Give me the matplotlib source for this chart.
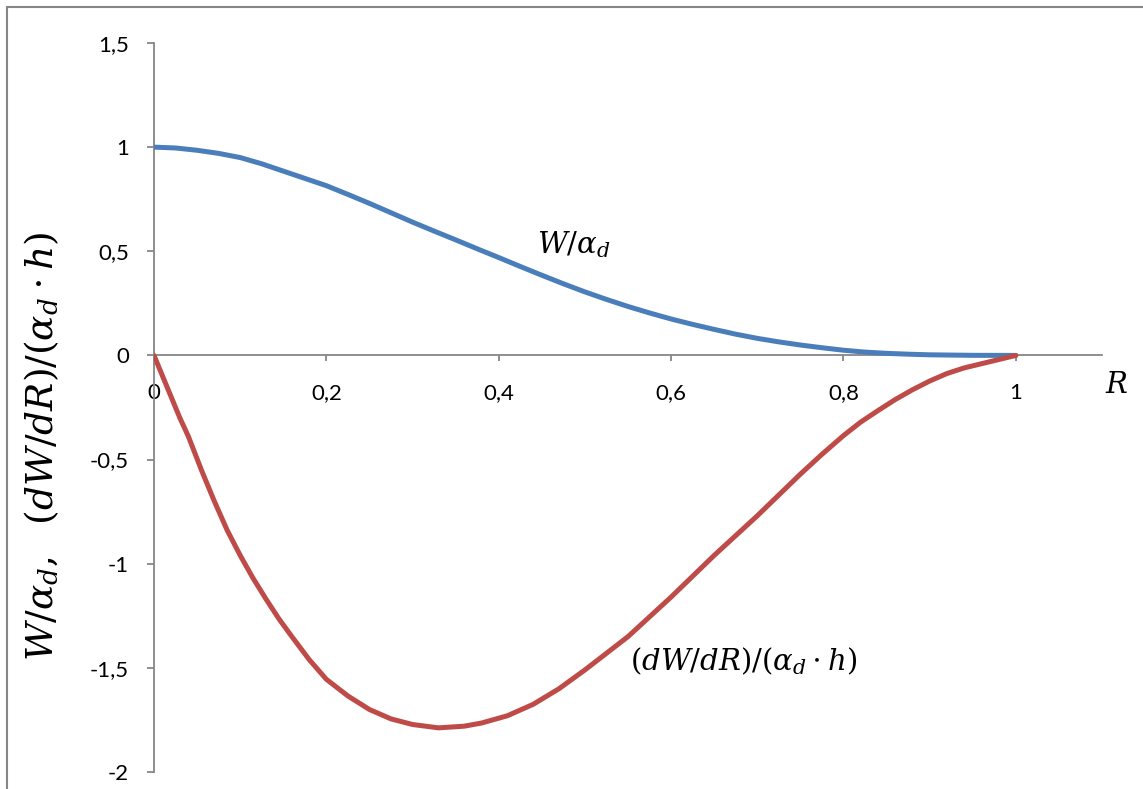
import numpy as np
import matplotlib
matplotlib.use('Agg')
import matplotlib.pyplot as plt
from matplotlib.patches import Rectangle

plt.rcParams['font.family'] = ['Lato', 'DejaVu Sans']
plt.rcParams['mathtext.fontset'] = 'dejavuserif'

# W/alpha_d
r_w = [0, 0.025, 0.05, 0.075, 0.1, 0.125, 0.15, 0.175, 0.2, 0.225, 0.25,
       0.275, 0.3, 0.325, 0.35, 0.375, 0.4, 0.425, 0.45, 0.475, 0.5,
       0.525, 0.55, 0.575, 0.6, 0.625, 0.65, 0.675, 0.7, 0.725, 0.75,
       0.775, 0.8, 0.825, 0.85, 0.875, 0.9, 0.95, 1.0]
w = [1.0, 0.996, 0.985, 0.97, 0.95, 0.92, 0.885, 0.85, 0.815, 0.773, 0.73,
     0.685, 0.64, 0.597, 0.555, 0.512, 0.47, 0.427, 0.385, 0.344, 0.305,
     0.269, 0.235, 0.204, 0.175, 0.149, 0.125, 0.102, 0.082, 0.065, 0.05,
     0.037, 0.025, 0.016, 0.01, 0.006, 0.003, 0.0005, 0.0]

# (dW/dR)/(alpha_d*h)
r_dw = [0, 0.01, 0.02, 0.03, 0.04, 0.055, 0.07, 0.085, 0.1, 0.115, 0.13,
        0.145, 0.16, 0.18, 0.2, 0.225, 0.25, 0.275, 0.3, 0.33, 0.36, 0.38,
        0.41, 0.44, 0.47, 0.5, 0.525, 0.55, 0.575, 0.6, 0.625, 0.65, 0.675,
        0.7, 0.725, 0.75, 0.775, 0.8, 0.82, 0.84, 0.86, 0.88, 0.9, 0.92,
        0.94, 0.96, 0.98, 1.0]
dw = [0, -0.1, -0.2, -0.3, -0.39, -0.55, -0.70, -0.84, -0.96, -1.07, -1.17,
      -1.265, -1.35, -1.46, -1.555, -1.635, -1.70, -1.745, -1.772, -1.788,
      -1.78, -1.765, -1.73, -1.675, -1.60, -1.51, -1.43, -1.35, -1.255, -1.16,
      -1.06, -0.96, -0.865, -0.77, -0.67, -0.57, -0.475, -0.385, -0.32, -0.265,
      -0.212, -0.165, -0.123, -0.087, -0.06, -0.04, -0.02, 0.0]

xticks = [0, 0.2, 0.4, 0.6, 0.8, 1.0]
xtick_labels = ['0', '0,2', '0,4', '0,6', '0,8', '1']
yticks = [-2, -1.5, -1, -0.5, 0, 0.5, 1, 1.5]
ytick_labels = ['-2', '-1,5', '-1', '-0,5', '0', '0,5', '1', '1,5']

blue = '#4A7EBB'
red = '#BE4B48'
grey = '#868686'

fig = plt.figure(figsize=(11.43, 7.89), dpi=100)
ax = fig.add_axes([154/1143, 17/789, 948/1143, 729/789])

ax.plot(r_w, w, color=blue, lw=3.6, solid_capstyle='round',
        solid_joinstyle='round', zorder=3)
ax.plot(r_dw, dw, color=red, lw=3.6, solid_capstyle='round',
        solid_joinstyle='round', zorder=3)

ax.set_xlim(0, 1.1)
ax.set_ylim(-2, 1.5)

ax.spines['top'].set_visible(False)
ax.spines['right'].set_visible(False)
ax.spines['bottom'].set_position(('data', 0))
for s in ['left', 'bottom']:
    ax.spines[s].set_color(grey)
    ax.spines[s].set_linewidth(1.3)

ax.set_xticks(xticks)
ax.set_xticklabels(xtick_labels)
ax.set_yticks(yticks)
ax.set_yticklabels(ytick_labels)
ax.tick_params(axis='x', direction='out', length=4, width=1.3, color=grey,
               pad=16, labelsize=16)
ax.tick_params(axis='y', direction='out', length=5, width=1.3, color=grey,
               pad=13, labelsize=16)

ax.text(0.444, 0.53, r'$W/\alpha_d$', fontsize=21, va='center', ha='left')
ax.text(0.552, -1.47, r'$(dW/dR)/(\alpha_d \cdot h)$', fontsize=21,
        va='center', ha='left')
ax.text(1.103, -0.14, r'$R$', fontsize=21, va='center', ha='left')

fig.text(42/1143, 1 - 447/789,
         r'$W/\alpha_d,\ \ (dW/dR)/(\alpha_d \cdot h)$',
         fontsize=27, rotation=90, va='center', ha='center')

# outer chart frame (runs off the right and bottom edges)
fig.patches.append(Rectangle((7/1143, -0.1), 1.2, 1 - 7/789 + 0.1,
                             transform=fig.transFigure, fill=False,
                             edgecolor=grey, lw=1.5))

fig.savefig('out.png', dpi=100)
